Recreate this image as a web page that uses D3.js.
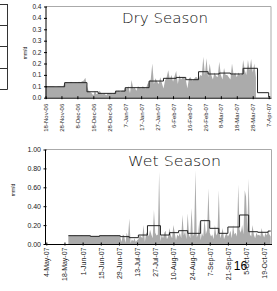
<!DOCTYPE html>
<html>
<head>
<meta charset="utf-8">
<script src="https://cdn.jsdelivr.net/npm/d3@7"></script>
<style>
body { margin: 0; background: #fff; }
svg { display: block; }
</style>
</head>
<body>
<script>
// ---- dry season data (mm/d) ----
const dryStart = "2006-11-18";
const dryDaily = [
  0.05,0.05,0.05,0.05,0.05,0.05,0.048,0.048,0.05,0.05,0.048,0.05,
  0.065,0.068,0.066,0.066,0.07,0.066,0.066,0.068,0.066,0.07,0.068,0.072,0.075,0.088,
  0.05,0.03,0.025,0.02,0.01,0.03,0.015,
  0.02,0.03,0.018,0.015,0.02,0.01,0.02,0.018,0.02,0.015,0.02,
  0.03,0.028,0.03,0.025,0.032,0.03,
  0.045,0.04,0.05,0.02,0.078,0.04,0.045,0.03,0.05,0.045,0.04,0.05,0.045,0.04,0.06,
  0.07,0.08,0.15,0.06,0.085,0.07,0.06,0.09,0.065,
  0.04,0.075,0.09,0.12,0.08,0.1,0.07,0.095,
  0.117,0.06,0.1,0.08,0.09,0.087,
  0.08,0.04,0.085,0.09,0.075,0.08,0.09,0.09,
  0.08,0.1,0.095,0.18,0.1,0.173,
  0.09,0.15,0.1,0.08,0.11,0.095,
  0.09,0.158,0.1,0.08,0.13,0.1,0.1,
  0.09,0.08,0.15,0.1,0.11,0.09,0.11,0.1,
  0.1,0.165,0.12,0.1,0.165,0.12,0.17,0.11,0.15,0.09
];
const dryStepDates = ["2006-11-18","2006-11-30","2006-12-14","2006-12-21","2007-01-01","2007-01-07",
  "2007-01-22","2007-01-31","2007-02-08","2007-02-14","2007-02-22","2007-02-28","2007-03-07",
  "2007-03-14","2007-03-22","2007-03-31","2007-04-07"];
const dryStepVals = [0.048,0.066,0.026,0.019,0.029,0.044,0.073,0.085,0.089,0.079,0.114,0.104,0.108,
  0.104,0.129,0.022,0.004];
const dryStepEnd = "2007-04-08";
const dryTickDates = ["2006-11-18","2006-11-28","2006-12-08","2006-12-18","2006-12-28","2007-01-07",
  "2007-01-17","2007-01-27","2007-02-06","2007-02-16","2007-02-26","2007-03-08","2007-03-18",
  "2007-03-28","2007-04-07"];
const dryYTicks = [0,0.05,0.1,0.15,0.2,0.25,0.3,0.35,0.4];
const dryYLabels = ["0.0","0.1","0.1","0.2","0.2","0.3","0.3","0.4","0.4"];

// ---- wet season data (mm/d) ----
const wetStart = "2007-05-21";
const wetDaily = [
  // May 21-31
  0.088,0.089,0.088,0.087,0.088,0.089,0.088,0.088,0.087,0.088,0.089,
  // June
  0.088,0.088,0.087,0.088,0.088,0.086,
  0.082,0.081,0.080,0.081,0.082,0.081,0.080,
  0.088,0.089,0.088,0.088,0.090,0.088,0.087,0.088,0.089,0.088,0.088,0.087,0.089,0.088,0.090,0.088,
  0.08,
  // July
  0.02,0.1,0.09,0.01,0.12,0.07,0.27,0.01,0.05,0.03,0.06,0.02,0.04,0.05,0.09,0.08,0.06,0.2,0.02,0.12,
  0.12,0.08,0.15,0.1,0.06,0.36,0.12,0.09,0.1,0.765,0.03,
  // August
  0.1,0.06,0.12,0.14,0.05,0.08,0.17,0.09,0.06,0.2,0.12,0.04,0.1,0.08,0.12,0.06,0.31,0.09,0.14,0.05,
  0.325,0.1,0.06,0.38,0.08,0.12,0.78,0.07,0.1,0.25,0.04,
  // September
  0.12,0.08,0.27,0.1,0.15,0.59,0.12,0.08,0.1,0.05,0.2,0.09,0.12,0.57,0.06,0.1,0.17,0.05,0.09,0.12,
  0.08,0.1,0.14,0.06,0.2,0.1,0.12,0.08,0.63,0.15,
  // October 1-24
  0.12,0.2,0.1,0.57,0.5,0.15,0.69,0.1,0.08,0.2,0.1,0.06,0.12,0.09,0.1,0.08,0.17,0.1,0.07,0.12,
  0.09,0.14,0.1,0.08
];
const wetStepDates = ["2007-05-21","2007-06-07","2007-06-14","2007-06-30","2007-07-07","2007-07-14",
  "2007-07-21","2007-07-31","2007-08-07","2007-08-14","2007-08-21","2007-08-31","2007-09-07",
  "2007-09-14","2007-09-21","2007-09-30","2007-10-07","2007-10-14","2007-10-22"];
const wetStepVals = [0.088,0.081,0.088,0.078,0.067,0.095,0.194,0.095,0.12,0.141,0.113,0.247,0.166,
  0.113,0.18,0.307,0.13,0.124,0.137];
const wetStepEnd = "2007-10-24";
const wetTickDates = ["2007-05-04","2007-05-18","2007-06-01","2007-06-15","2007-06-29","2007-07-13",
  "2007-07-27","2007-08-10","2007-08-24","2007-09-07","2007-09-21","2007-10-05","2007-10-19"];
const wetYTicks = [0,0.2,0.4,0.6,0.8,1.0];
const wetYLabels = ["0.00","0.20","0.40","0.60","0.80","1.00"];

const parse = d3.timeParse("%Y-%m-%d");
const fmt = d3.timeFormat("%-d-%b-%y");

const svg = d3.select("body").append("svg")
  .attr("width", 277).attr("height", 291);

// bits of a table cut off at the left edge of the page
const edge = svg.append("g").attr("stroke", "#333").attr("stroke-width", 1);
edge.append("line").attr("x1", 7.5).attr("x2", 7.5).attr("y1", 4).attr("y2", 89.5);
[4.5, 25.5, 46.5, 68.5, 89.5].forEach(y =>
  edge.append("line").attr("x1", 0).attr("x2", 7.5).attr("y1", y).attr("y2", y));

function panel(o) {
  const x = d3.scaleTime().domain(o.domain).range([o.left, o.right]);
  const y = d3.scaleLinear().domain([0, o.ymax]).range([o.bottom, o.top]);
  const g = svg.append("g");

  // plot frame (top and right, light grey)
  g.append("path")
    .attr("d", `M${o.left},${o.top}H${o.right}V${o.bottom}`)
    .attr("fill", "none").attr("stroke", "#aaa").attr("stroke-width", 1);

  const s = d3.timeDay.offset;
  const t0 = parse(o.start);
  const daily = o.daily.map((v, i) => ({ d: s(t0, i), v }));
  g.append("path")
    .datum(daily)
    .attr("fill", "#ababab")
    .attr("d", d3.area().x(d => x(d.d)).y0(y(0)).y1(d => y(d.v)));

  const steps = o.stepDates.map((d, i) => ({ d: parse(d), v: o.stepVals[i] }));
  steps.push({ d: parse(o.stepEnd), v: o.stepVals[o.stepVals.length - 1] });
  g.append("path")
    .datum(steps)
    .attr("fill", "none").attr("stroke", "#222").attr("stroke-width", 1)
    .attr("d", d3.line().curve(d3.curveStepAfter).x(d => x(d.d)).y(d => y(d.v)));

  // axes
  const xa = g.append("g")
    .attr("transform", `translate(0,${o.bottom})`)
    .call(d3.axisBottom(x).tickValues(o.ticks.map(parse)).tickFormat(fmt).tickSizeOuter(0));
  xa.selectAll(".tick line").attr("y1", -1.5).attr("y2", 1.5).attr("stroke", "#000");
  xa.selectAll(".tick text")
    .attr("transform", "rotate(-90)")
    .attr("text-anchor", "end")
    .attr("x", -o.xgap).attr("y", 0).attr("dy", "0.35em")
    .attr("font-family", "Liberation Sans, Arial, sans-serif")
    .attr("font-size", o.xfs).attr("fill", "#222");
  xa.select(".domain").attr("stroke", "#000");

  const ya = g.append("g")
    .attr("transform", `translate(${o.left},0)`)
    .call(d3.axisLeft(y).tickValues(o.yticks).tickFormat((d, i) => o.ylabels[i]).tickSizeOuter(0));
  ya.selectAll(".tick line").attr("x1", 1.5).attr("x2", -1.5).attr("stroke", "#000");
  ya.selectAll(".tick text")
    .attr("x", -4)
    .attr("font-family", "Liberation Sans, Arial, sans-serif")
    .attr("font-size", o.yfs).attr("fill", "#222");
  ya.select(".domain").attr("stroke", "#000");

  g.append("text")
    .attr("transform", `translate(${o.ylabX},${o.ylabY}) rotate(-90)`)
    .attr("text-anchor", "middle")
    .attr("font-family", "Liberation Sans, Arial, sans-serif")
    .attr("font-size", 5).attr("fill", "#222")
    .text("mm/d");

  g.append("text")
    .attr("x", o.titleX).attr("y", o.titleY)
    .attr("font-family", "DejaVu Sans, sans-serif")
    .attr("font-weight", 200)
    .attr("font-size", 14).attr("fill", "#111")
    .attr("textLength", o.titleW).attr("lengthAdjust", "spacingAndGlyphs")
    .text(o.title);
}

panel({
  domain: [parse("2006-11-18"), new Date(2007, 3, 8, 11)],
  left: 45.5, right: 271, top: 6.5, bottom: 97.7, ymax: 0.4,
  start: dryStart, daily: dryDaily,
  stepDates: dryStepDates, stepVals: dryStepVals, stepEnd: dryStepEnd,
  ticks: dryTickDates, yticks: dryYTicks, ylabels: dryYLabels,
  xgap: 6, xfs: 6, yfs: 6.5, ylabX: 27, ylabY: 53,
  title: "Dry Season", titleX: 122, titleY: 23, titleW: 86
});

panel({
  domain: [parse("2007-05-03"), new Date(2007, 9, 24, 15)],
  left: 45, right: 271.5, top: 149.5, bottom: 244, ymax: 1.0,
  start: wetStart, daily: wetDaily,
  stepDates: wetStepDates, stepVals: wetStepVals, stepEnd: wetStepEnd,
  ticks: wetTickDates, yticks: wetYTicks, ylabels: wetYLabels,
  xgap: 3.5, xfs: 7, yfs: 7, ylabX: 15, ylabY: 190,
  title: "Wet Season", titleX: 128, titleY: 166, titleW: 93
});

// page number
svg.append("text")
  .attr("x", 240.5).attr("y", 269.5)
  .attr("text-anchor", "middle")
  .attr("font-family", "Liberation Sans, Arial, sans-serif")
  .attr("font-size", 12).attr("fill", "#000")
  .text("16");
</script>
</body>
</html>
